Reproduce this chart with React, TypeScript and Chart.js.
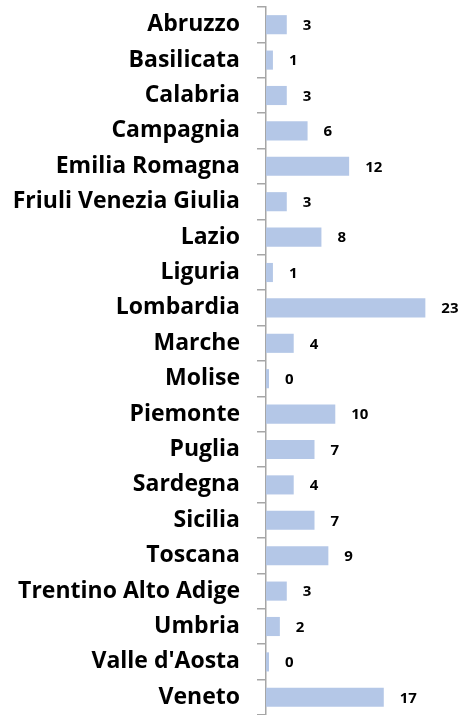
import React, { useEffect, useRef } from "react";
import { Chart, registerables } from "chart.js";

Chart.register(...registerables);

const regions = [
  "Abruzzo", "Basilicata", "Calabria", "Campagnia", "Emilia Romagna",
  "Friuli Venezia Giulia", "Lazio", "Liguria", "Lombardia", "Marche",
  "Molise", "Piemonte", "Puglia", "Sardegna", "Sicilia", "Toscana",
  "Trentino Alto Adige", "Umbria", "Valle d'Aosta", "Veneto",
];
const counts = [3, 1, 3, 6, 12, 3, 8, 1, 23, 4, 0, 10, 7, 4, 7, 9, 3, 2, 0, 17];

const LABEL_FONT = "'Open Sans', Lato, sans-serif";

const valueLabels = {
  id: "valueLabels",
  afterDatasetsDraw(chart: any) {
    const ctx = chart.ctx;
    const meta = chart.getDatasetMeta(0);
    ctx.save();
    ctx.font = `bold 15px ${LABEL_FONT}`;
    ctx.fillStyle = "#000";
    ctx.textAlign = "left";
    ctx.textBaseline = "middle";
    meta.data.forEach((bar: any, i: number) => {
      ctx.fillText(String(counts[i]), bar.x + 16, bar.y + 1);
    });
    ctx.restore();
  },
};

export default function App() {
  const ref = useRef<HTMLCanvasElement>(null);
  useEffect(() => {
    const chart = new Chart(ref.current!, {
      type: "bar",
      data: {
        labels: regions,
        datasets: [
          {
            data: counts,
            backgroundColor: "#b4c7e7",
            barPercentage: 0.54,
            categoryPercentage: 1,
            minBarLength: 3,
          },
        ],
      },
      options: {
        indexAxis: "y",
        animation: false,
        responsive: false,
        layout: { padding: { top: 7, bottom: 0, left: 0, right: 0 } },
        plugins: { legend: { display: false }, tooltip: { enabled: false } },
        scales: {
          x: { display: false, min: 0, max: 28 },
          y: {
            offset: true,
            afterFit(scale: any) {
              scale.width = 266;
              scale.paddingTop = 0;
              scale.paddingBottom = 0;
            },
            grid: {
              offset: true,
              drawOnChartArea: false,
              drawTicks: true,
              tickLength: 9,
              color: "#a6a6a6",
              lineWidth: 1.5,
            },
            border: { display: true, color: "#a6a6a6", width: 1.5 },
            ticks: {
              padding: 17,
              color: "#000",
              autoSkip: false,
              font: { family: LABEL_FONT, size: 23, weight: "bold" },
            },
          },
        },
      },
      plugins: [valueLabels],
    });
    return () => chart.destroy();
  }, []);
  return (
    <div style={{ position: "fixed", left: 0, top: 0, width: 460, height: 715, background: "#fff" }}>
      <canvas ref={ref} width={460} height={715} />
    </div>
  );
}
